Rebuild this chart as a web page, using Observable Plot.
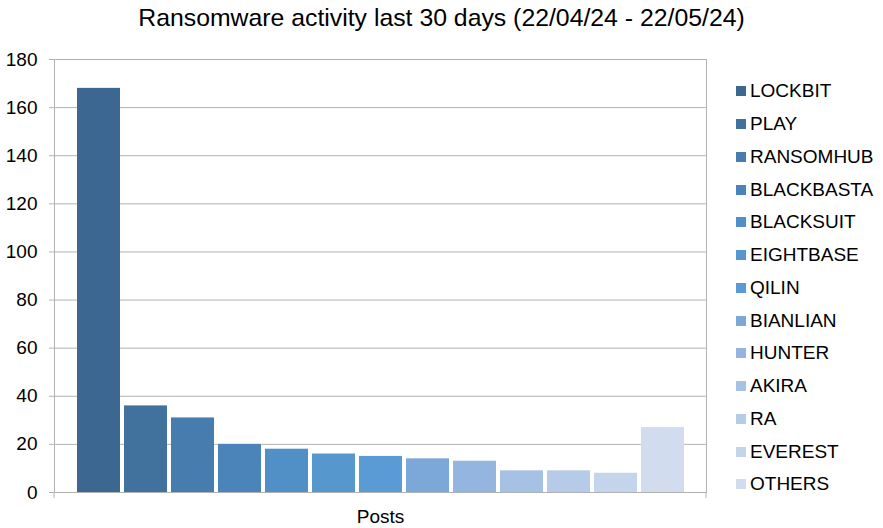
<!DOCTYPE html>
<html>
<head>
<meta charset="utf-8">
<script src="https://cdn.jsdelivr.net/npm/d3@7"></script>
<script src="https://cdn.jsdelivr.net/npm/@observablehq/plot@0.6"></script>
<style>
  body { margin: 0; background: #fff; font-family: "Liberation Sans", Arial, sans-serif; }
  #wrap { position: relative; width: 883px; height: 528px; }
  #title { position: absolute; left: 0; top: 4px; width: 883px; text-align: center; font-size: 24.8px; color: #000; }
  #chart { position: absolute; left: 0; top: 45px; }
  #legend { position: absolute; left: 736px; top: 75px; }
  .item { height: 32.75px; display: flex; align-items: center; font-size: 19px; color: #000; }
  .sw { width: 10px; height: 10px; margin-right: 4px; }
</style>
</head>
<body>
<div id="wrap">
  <div id="title">Ransomware activity last 30 days (22/04/24 - 22/05/24)</div>
  <div id="chart"></div>
  <div id="legend"></div>
</div>
<script>
const names = ["LOCKBIT","PLAY","RANSOMHUB","BLACKBASTA","BLACKSUIT","EIGHTBASE","QILIN","BIANLIAN","HUNTER","AKIRA","RA","EVEREST","OTHERS"];
const values = [168, 36, 31, 20, 18, 16, 15, 14, 13, 9, 9, 8, 27];
const colors = ["#3b6790","#41729e","#467dae","#4b84b8","#5190c6","#5697ce","#5b9bd5","#7ba8d9","#94b5df","#a5c1e3","#b5cbe7","#c4d4eb","#d1ddee"];
const yTicks = [0,20,40,60,80,100,120,140,160,180];
const xLabel = "Posts";

const data = names.map((n, i) => ({name: n, value: values[i]}));

// small category-boundary ticks below the baseline at the plot edges
function edgeTicks(index, scales, values, dim) {
  const g = d3.create("svg:g").attr("stroke", "#b3b3b3");
  const yb = dim.height - dim.marginBottom;
  [dim.marginLeft, dim.width - dim.marginRight].forEach(x => {
    g.append("line").attr("x1", x).attr("x2", x).attr("y1", yb).attr("y2", yb + 6);
  });
  return g.node();
}

const chart = Plot.plot({
  width: 883,
  height: 483,
  marginLeft: 54,
  marginRight: 177,
  marginTop: 14,
  marginBottom: 36,
  style: {fontFamily: "'Liberation Sans', Arial, sans-serif", fontSize: "19px", color: "#000", background: "#fff"},
  x: {domain: names, paddingInner: 0.088, paddingOuter: 0.43, axis: null},
  y: {domain: [0, 180], axis: null},
  color: {domain: names, range: colors},
  marks: [
    Plot.gridY(yTicks, {stroke: "#b3b3b3", strokeOpacity: 1}),
    Plot.frame({stroke: "#b3b3b3"}),
    edgeTicks,
    Plot.axisY({ticks: yTicks, tickSize: 5, tickPadding: 12, fontSize: 19, stroke: "#b3b3b3", label: null, tickFormat: d => String(d)}),
    Plot.barY(data, {x: "name", y: "value", fill: "name"}),
    Plot.text([xLabel], {frameAnchor: "bottom", dy: 30, fontSize: 19, fill: "#000"})
  ]
});
document.getElementById("chart").appendChild(chart);

const legend = document.getElementById("legend");
names.forEach((n, i) => {
  const it = document.createElement("div");
  it.className = "item";
  const sw = document.createElement("div");
  sw.className = "sw";
  sw.style.background = colors[i];
  const t = document.createElement("span");
  t.textContent = n;
  it.appendChild(sw); it.appendChild(t);
  legend.appendChild(it);
});
</script>
</body>
</html>
